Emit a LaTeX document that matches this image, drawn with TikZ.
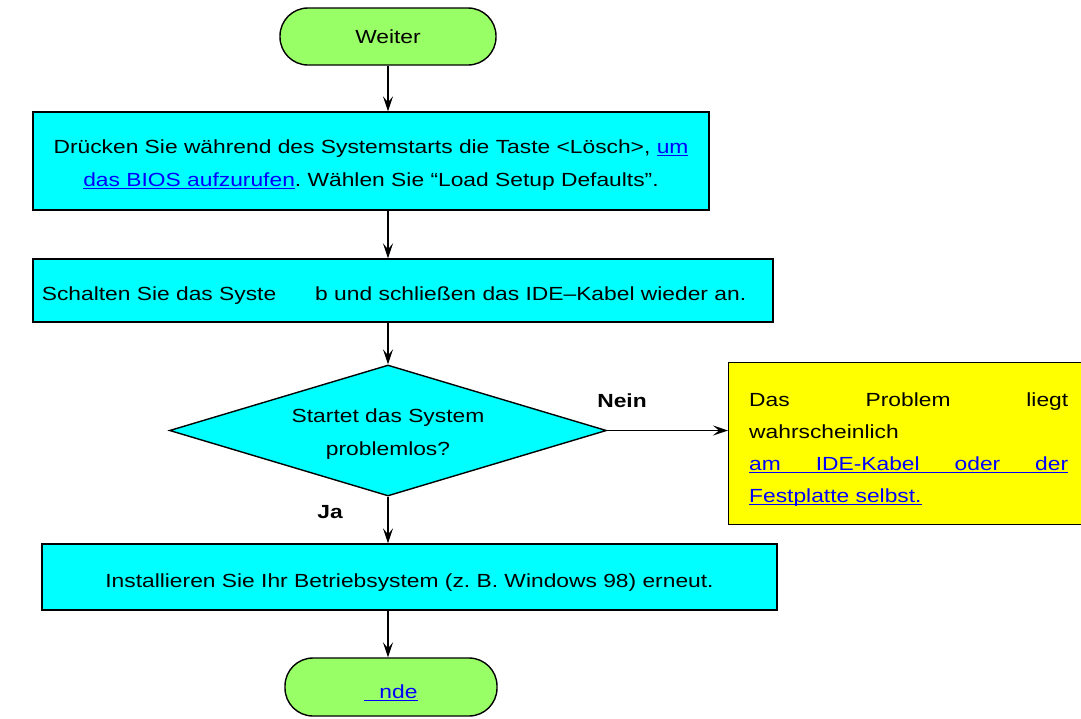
\documentclass[tikz,border=0pt]{standalone}
\usepackage{fontspec}
\setmainfont[FakeStretch=1.2]{Liberation Sans}
\usepackage{xcolor}
\usetikzlibrary{arrows.meta,shapes.geometric}
\definecolor{startgreen}{RGB}{153,255,102}
\definecolor{stepcyan}{RGB}{0,255,255}
\definecolor{noteyellow}{RGB}{255,255,0}
\definecolor{linkblue}{RGB}{0,0,255}
\newlength{\linklen}
\newcommand{\weblink}[1]{\settowidth{\linklen}{#1}\textcolor{linkblue}{\rlap{\rule[-2.5pt]{\linklen}{1pt}}#1}}
\frenchspacing

\begin{document}
\begin{tikzpicture}[x=1pt, y=-1pt,
    every node/.style={font=\fontsize{19}{33}\selectfont, align=center},
    terminal/.style={draw, line width=1.4pt, fill=startgreen, rounded corners=28pt, minimum width=216pt, minimum height=57pt},
    stepbox/.style={draw, line width=1.4pt, fill=stepcyan, inner sep=0pt},
    decision/.style={draw, diamond, aspect=3.34, line width=1.4pt, fill=stepcyan, minimum width=437pt, minimum height=131pt, inner sep=0pt},
    answer/.style={font=\fontsize{19}{22}\selectfont\bfseries},
    flow/.style={line width=1.3pt, -{Stealth[length=15pt,width=10pt,inset=6pt]}}
]
\useasboundingbox (0,0) rectangle (1081,718);

% start and steps
\node[terminal] (weiter) at (388,36.5) {Weiter};
\node[stepbox, minimum width=676pt, minimum height=98pt] (defaults) at (371,161)
    {\rule{0pt}{22pt}Drücken Sie während des Systemstarts die Taste <Lösch>, \weblink{um}\\
     \weblink{das BIOS aufzurufen}. Wählen Sie “Load Setup Defaults”.};
\node[stepbox, minimum width=740pt, minimum height=63pt] (reconnect) at (403,290.5)
    {\rule{0pt}{24pt}Schalten Sie das Syste\hspace{39pt}b und schließen das IDE–Kabel wieder an.\kern18pt};

% decision
\node[decision] (check) at (388,430.5) {\rule{0pt}{21pt}Startet das System\\problemlos?};
\node[answer] (nein) at (622,401) {Nein};
\node[answer] (ja) at (330,512) {Ja};

% note on the right
\node[stepbox, fill=noteyellow, anchor=north west, minimum width=360pt, minimum height=162pt,
      text width=319pt, align=left, font=\fontsize{19}{32}\selectfont] (cause) at (728,362)
    {\rule{0pt}{26pt}Das\hfill Problem\hfill liegt\\
     wahrscheinlich\\
     \weblink{\makebox[319pt][s]{am\hfill IDE-Kabel\hfill oder\hfill der}}\\
     \weblink{Festplatte selbst.}};

% last step and end
\node[stepbox, minimum width=735pt, minimum height=66pt] (reinstall) at (409.5,577)
    {\rule{0pt}{25pt}Installieren Sie Ihr Betriebsystem (z. B. Windows 98) erneut.};
\node[terminal, minimum width=212pt, minimum height=58pt] (ende) at (391,687)
    {\rule{0pt}{24.5pt}\weblink{\hspace*{15pt}nde}};

% connectors
\draw[flow] (weiter.south) -- (weiter.south |- defaults.north);
\draw[flow] (weiter.south |- defaults.south) -- (weiter.south |- reconnect.north);
\draw[flow] (weiter.south |- reconnect.south) -- (check.north);
\draw[flow] (check.east) -- (check.east -| cause.west);
\draw[flow] (check.south) -- (check.south |- reinstall.north);
\draw[flow] (weiter.south |- reinstall.south) -- (weiter.south |- ende.north);
\end{tikzpicture}
\end{document}
